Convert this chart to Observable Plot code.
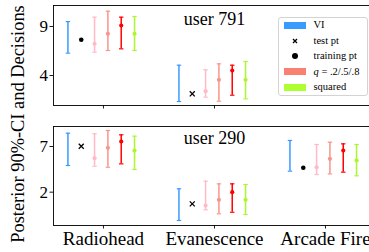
<!DOCTYPE html>
<html>
<head>
<meta charset="utf-8">
<script src="https://cdn.jsdelivr.net/npm/d3@7"></script>
<script src="https://cdn.jsdelivr.net/npm/@observablehq/plot@0.6"></script>
<style>
  html, body { margin: 0; padding: 0; background: white; overflow: hidden; }
  #wrap { position: relative; width: 369px; height: 252px; overflow: hidden; background: white; font-family: "Liberation Serif", serif; }
  #wrap svg { max-width: none !important; position: absolute; left: 0; }
  #ylabel { position: absolute; left: 0; top: 0; width: 248px; height: 18.4px; line-height: 18.4px; font-size: 18.4px; text-align: center; white-space: nowrap; transform-origin: 0 0; transform: translate(8.6px, 248px) rotate(-90deg); color: #000; font-family: "Liberation Serif", serif; }
  #legend { position: absolute; left: 278px; top: 17px; width: 88px; height: 77px; border: 1px solid #d3d3d3; border-radius: 3px; background: rgba(255,255,255,0.85); font-size: 10.5px; color: #000; font-family: "Liberation Serif", serif; }
  #legend .row { position: absolute; left: 0; height: 14px; width: 88px; }
  #legend .patch { position: absolute; left: 5px; top: 3.5px; width: 22px; height: 7px; }
  #legend .lab { position: absolute; left: 34.5px; top: 0; line-height: 14px; white-space: nowrap; font-family: "Liberation Serif", serif; }
  #legend svg { position: absolute; left: 5px; top: 0; }
</style>
</head>
<body>
<div id="wrap">
  <div id="top"></div>
  <div id="bot"></div>
  <div id="ylabel">Posterior 90%-CI and Decisions</div>
  <div id="legend"></div>
</div>
<script>
// ---------- data ----------
const groups = ["Radiohead", "Evanescence", "Arcade Fire"];
const seriesNames = ["VI", "q=.2", "q=.5", "q=.8", "squared"];

// user 791 (top panel): Radiohead, Evanescence
const u791VI = [[6.28, 9.5], [1.35, 5.05]];                       // [lo, hi]
const u791Q2 = [[6.38, 7.23, 9.95], [1.79, 2.4, 4.58]];           // [lo, mid, hi]
const u791Q5 = [[6.55, 8.26, 10.56], [1.38, 3.56, 5.19]];
const u791Q8 = [[6.72, 9.1, 9.95], [1.99, 4.51, 5.05]];
const u791Sq = [[6.55, 8.26, 10.02], [1.62, 3.56, 5.43]];
const u791Points = [["training", 0, 7.64], ["test", 1, 2.13]];    // [kind, group, value]

// user 290 (bottom panel): Radiohead, Evanescence, Arcade Fire
const u290VI = [[4.92, 8.46], [-1.1, 2.37], [4.3, 7.66]];
const u290Q2 = [[4.84, 5.72, 8.39], [0.07, 0.54, 3.2], [3.93, 4.73, 7.22]];
const u290Q5 = [[4.73, 6.86, 8.75], [-0.37, 1.16, 2.91], [4.0, 5.65, 7.47]];
const u290Q8 = [[5.1, 7.55, 8.28], [-0.2, 2.0, 2.91], [4.19, 6.56, 7.29]];
const u290Sq = [[4.48, 6.56, 8.13], [-0.45, 1.16, 2.84], [3.79, 5.47, 7.22]];
const u290Points = [["test", 0, 7.03], ["test", 1, 0.72], ["training", 2, 4.67]];

const topTicksY = [4, 9];
const botTicksY = [2, 7];

// ---------- style / layout ----------
const colors = {"VI": "#3a9bff", "q=.2": "#ffbac5", "q=.5": "#f7968c", "q=.8": "#ff0000", "squared": "#adf530"};
const offsets = {"VI": -0.32, "point": -0.2, "q=.2": -0.08, "q=.5": 0.04, "q=.8": 0.16, "squared": 0.28};
const FONT = "Liberation Serif";

function bars(VI, Q2, Q5, Q8, Sq) {
  const rows = [];
  VI.forEach((d, g) => rows.push({s: "VI", x: g + offsets["VI"], lo: d[0], hi: d[1], mid: null}));
  [["q=.2", Q2], ["q=.5", Q5], ["q=.8", Q8], ["squared", Sq]].forEach(([s, arr]) =>
    arr.forEach((d, g) => rows.push({s, x: g + offsets[s], lo: d[0], mid: d[1], hi: d[2]})));
  return rows;
}
function pts(P) { return P.map(([k, g, v]) => ({k, x: g + offsets["point"], v})); }

const capSymbol = { draw(ctx, size) { const w = Math.sqrt(size / Math.PI); ctx.moveTo(-w, 0); ctx.lineTo(w, 0); } };

function panel({rows, points, ydomain, yticks, xticks, labels, title, titleDy, height, mt, mb}) {
  const mids = rows.filter(d => d.mid != null);
  return Plot.plot({
    width: 371, height, marginLeft: 53, marginRight: 0.5, marginTop: mt, marginBottom: mb,
    style: {fontFamily: FONT, fontSize: "17px", background: "white", color: "black", overflow: "visible"},
    x: {domain: [-0.45, 2.41], label: null},
    y: {domain: ydomain, label: null},
    marks: [
      Plot.ruleX(rows, {x: "x", y1: "lo", y2: "hi", stroke: d => colors[d.s], strokeWidth: 1.5}),
      Plot.dot(rows, {x: "x", y: "lo", symbol: capSymbol, r: 2.2, fill: "none", stroke: d => colors[d.s], strokeWidth: 1.2}),
      Plot.dot(rows, {x: "x", y: "hi", symbol: capSymbol, r: 2.2, fill: "none", stroke: d => colors[d.s], strokeWidth: 1.2}),
      Plot.dot(mids, {x: "x", y: "mid", r: 2.1, fill: d => colors[d.s], stroke: "none"}),
      Plot.dot(points.filter(d => d.k === "training"), {x: "x", y: "v", r: 2.3, fill: "black", stroke: "none"}),
      Plot.dot(points.filter(d => d.k === "test"), {x: "x", y: "v", symbol: "times", r: 2.4, stroke: "black", strokeWidth: 1.3}),
      Plot.text([{t: title, x: 1}], {x: "x", text: "t", frameAnchor: "top", lineAnchor: "bottom", dy: titleDy, fontSize: 18, fill: "black"}),
      Plot.frame({stroke: "black", strokeWidth: 0.9}),
      Plot.axisY(yticks, {tickSize: 3.5, tickPadding: 2, fontSize: 17, label: null, stroke: "black", strokeWidth: 0.9}),
      Plot.axisX(xticks, {tickSize: 3.5, tickPadding: 2.5, fontSize: 19, label: null, stroke: "black", strokeWidth: 0.9,
        tickFormat: labels ? (i => groups[i]) : (() => "")})
    ]
  });
}

const topPlot = panel({
  rows: bars(u791VI, u791Q2, u791Q5, u791Q8, u791Sq), points: pts(u791Points),
  ydomain: [0.94, 11.14], yticks: topTicksY, xticks: [0, 1], labels: false,
  title: "user 791", titleDy: 19, height: 116, mt: 5, mb: 11
});
topPlot.style.top = "0px";
document.getElementById("top").appendChild(topPlot);

const botPlot = panel({
  rows: bars(u290VI, u290Q2, u290Q5, u290Q8, u290Sq), points: pts(u290Points),
  ydomain: [-1.65, 9.19], yticks: botTicksY, xticks: [0, 1, 2], labels: true,
  title: "user 290", titleDy: 17, height: 136, mt: 10, mb: 27
});
botPlot.style.top = "116px";
document.getElementById("bot").appendChild(botPlot);

// ---------- legend ----------
const legendItems = [
  {type: "patch", color: colors["VI"], html: "VI"},
  {type: "times", html: "test pt"},
  {type: "dot", html: "training pt"},
  {type: "patch", color: "#fa8072", html: "<i>q</i> = .2/.5/.8"},
  {type: "patch", color: "#adff2f", html: "squared"}
];
const legend = document.getElementById("legend");
legendItems.forEach((it, i) => {
  const row = document.createElement("div");
  row.className = "row";
  row.style.top = (i * 15.5) + "px";
  let sym = "";
  if (it.type === "patch") sym = `<div class="patch" style="background:${it.color}"></div>`;
  else if (it.type === "times") sym = `<svg width="22" height="14"><path d="M9,5L13,9M13,5L9,9" stroke="black" stroke-width="1.3"/></svg>`;
  else sym = `<svg width="22" height="14"><circle cx="11" cy="7" r="3" fill="black"/></svg>`;
  row.innerHTML = sym + `<span class="lab">${it.html}</span>`;
  legend.appendChild(row);
});
</script>
</body>
</html>
